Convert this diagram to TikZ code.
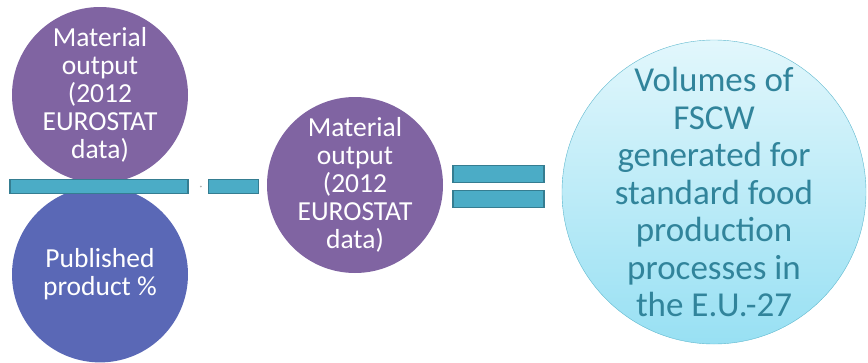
\documentclass[tikz,border=0pt]{standalone}
\usepackage{fontspec}
\setmainfont{Carlito}
\usetikzlibrary{positioning}

\definecolor{violet}{HTML}{8064A2}
\definecolor{indigo}{HTML}{5A68B6}
\definecolor{barfill}{HTML}{4BACC6}
\definecolor{barline}{HTML}{357D91}
\definecolor{skytop}{HTML}{E2F7FC}
\definecolor{skybot}{HTML}{98E0F3}
\definecolor{skyline}{HTML}{5FB8CE}
\definecolor{skytext}{HTML}{31849B}

\begin{document}
\begin{tikzpicture}[
            x = 1pt, y = -1pt, % pixel-like units
            blob/.style = {circle, inner sep = 0pt, minimum size = 176pt},
            blobtext/.style = {align = center, text = white,
                font = \fontsize{27.5}{28}\selectfont},
            bar/.style = {rectangle, draw = barline, fill = barfill,
                line width = 1.2pt, inner sep = 0pt}
        ]

        \useasboundingbox (0,0) rectangle (868,362);

        % circles
        \node[blob, fill = violet] (mattop) at (100,95) {};
        \node[blob, fill = indigo] (pubprod) [below = 3pt of mattop] {};
        \node[blob, fill = violet] (matmid) at (355,185) {};
        \node[circle, minimum size = 304pt, inner sep = 0pt,
            draw = skyline, thin, top color = skytop, bottom color = skybot]
            (fscw) at (714,192) {};

        % texts
        \node[blobtext] (mattoptext) at (mattop) {Material\\output\\(2012\\EUROSTAT\\data)};
        \node[blobtext] (pubprodtext) at (pubprod) {Published\\product \%};
        \node[blobtext] (matmidtext) at (matmid) {Material\\output\\(2012\\EUROSTAT\\data)};
        \node[align = center, text = skytext,
            font = \fontsize{35}{37.5}\selectfont] (fscwtext) at (fscw)
            {Volumes of\\FSCW\\generated for\\standard food\\production\\processes in\\the E.U.-27};

        % minus sign
        \node[bar, minimum width = 178pt, minimum height = 14pt] (minusa) at (99,186.5) {};
        \node[circle, fill = gray!60, inner sep = 0pt, minimum size = 2pt]
            (dot) [right = 11pt of minusa] {};
        \node[bar, minimum width = 50pt, minimum height = 14pt] (minusb)
            [right = 6pt of dot] {};

        % equals sign
        \node[bar, minimum width = 91pt, minimum height = 17pt] (eqtop) at (498.5,174) {};
        \node[bar, minimum width = 91pt, minimum height = 17pt] (eqbot)
            [below = 7pt of eqtop] {};

\end{tikzpicture}
\end{document}
